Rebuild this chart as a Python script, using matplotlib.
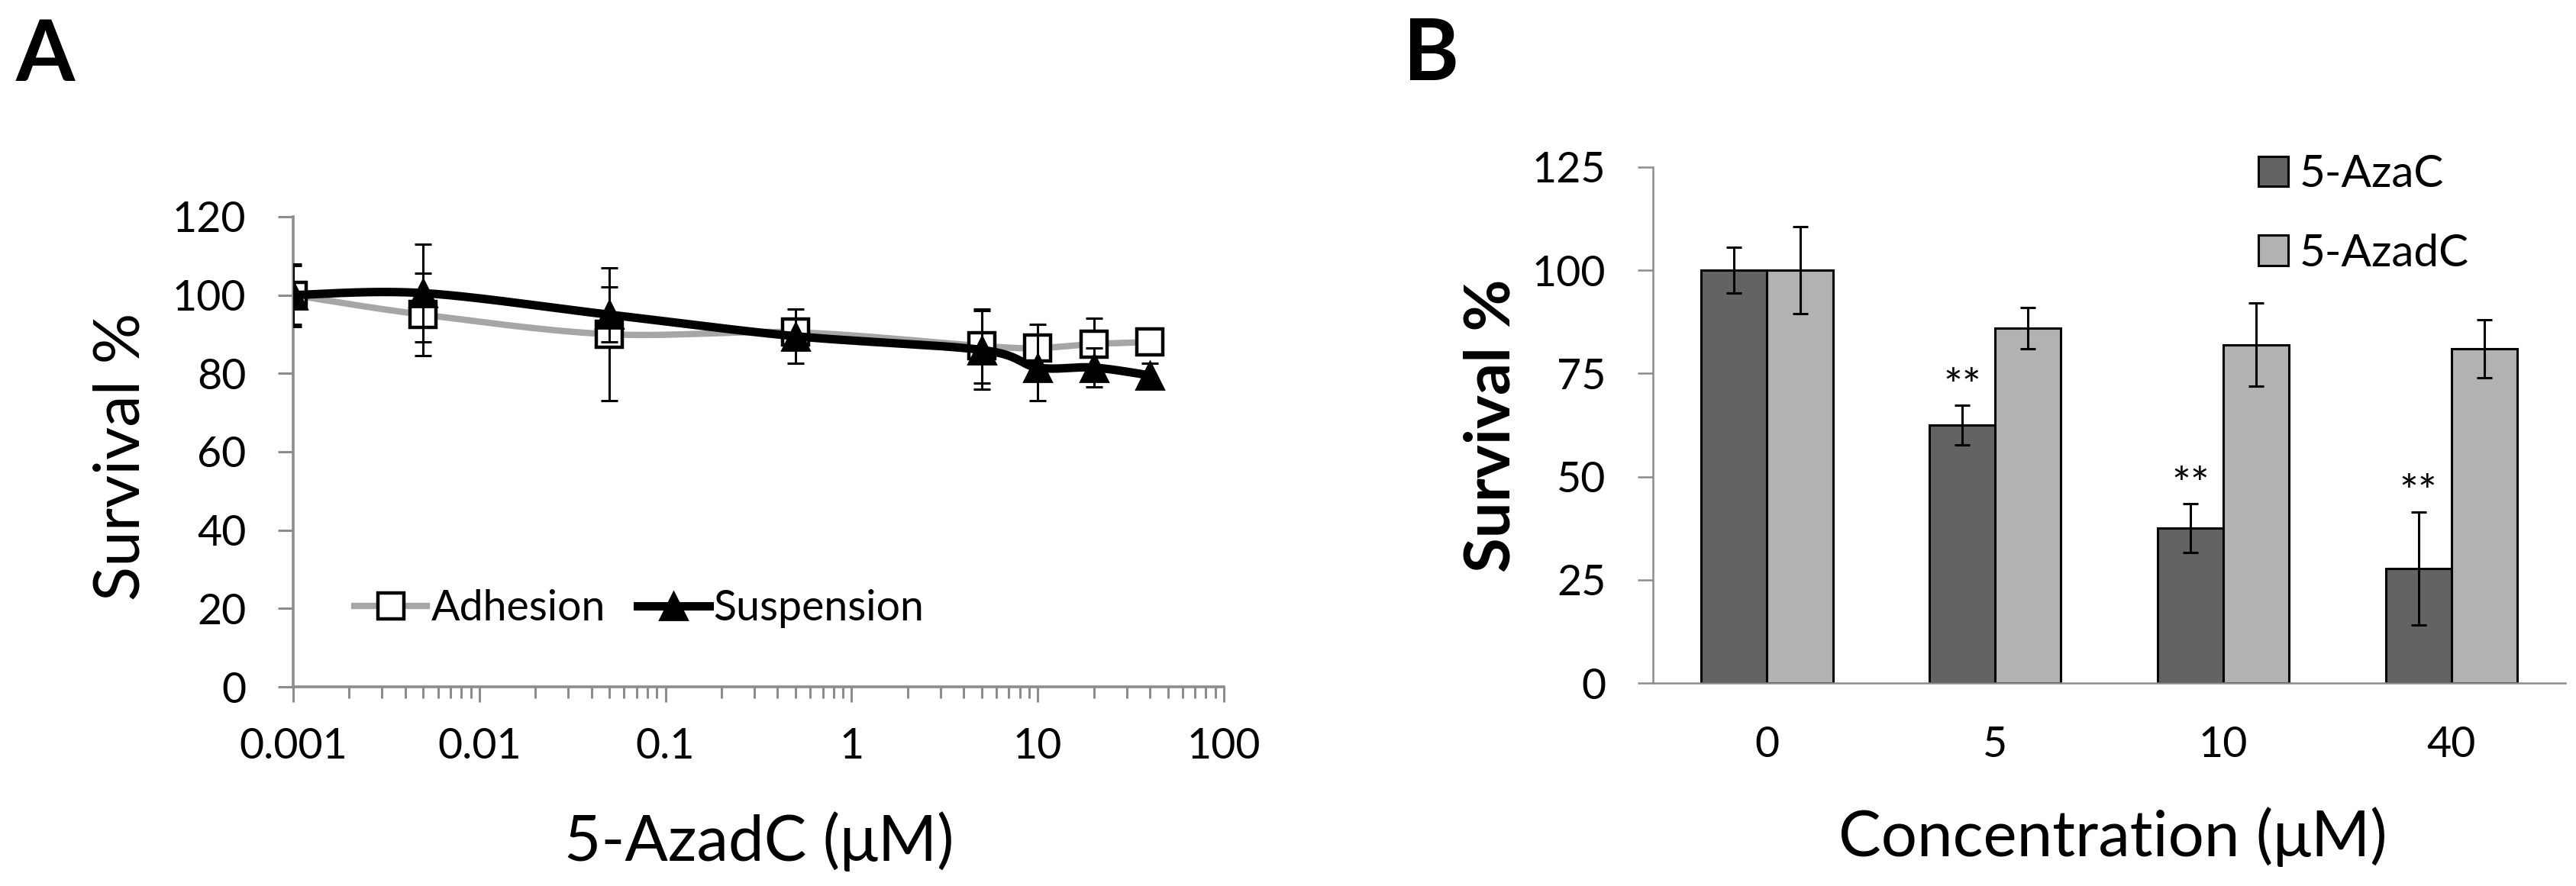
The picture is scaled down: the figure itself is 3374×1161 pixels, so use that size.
import numpy as np
import matplotlib
matplotlib.use('Agg')
import matplotlib.pyplot as plt
from matplotlib.lines import Line2D
from matplotlib.patches import Patch
from matplotlib.ticker import FixedLocator, FixedFormatter, NullFormatter

plt.rcParams['font.family'] = ['Lato', 'DejaVu Sans']

# panel A: 5-AzadC dose response
conc_a = [0.001, 0.005, 0.05, 0.5, 5, 10, 20, 40]
adhesion = [100, 95, 90, 90.5, 87, 86.5, 87.5, 88]
adhesion_err = [8, 10.5, 17, 3, 9.5, 6, 6.5, 1]
suspension = [100, 100.5, 95, 89.5, 86, 81.5, 81.5, 79.5]
suspension_err = [7.5, 12.5, 7, 7, 10, 8.5, 5, 3]
xticks_a = [0.001, 0.01, 0.1, 1, 10, 100]
xticklabels_a = ['0.001', '0.01', '0.1', '1', '10', '100']
yticks_a = [0, 20, 40, 60, 80, 100, 120]

# panel B: survival by concentration
conc_b = ['0', '5', '10', '40']
azac = [100, 62.5, 37.5, 27.8]
azac_err = [5.5, 4.8, 5.9, 13.7]
azadc = [100, 86, 82, 81]
azadc_err = [10.5, 5, 10, 7]
signif = ['', '**', '**', '**']
yticks_b = [0, 25, 50, 75, 100, 125]

GREY_LINE = '#a6a6a6'
AXIS_GREY = '#8c8c8c'
DARK_BAR = '#636363'
LIGHT_BAR = '#b2b2b2'


def smooth_line(x, y, n=40):
	"""
      Excel style smoothed line (bezier through the points) on a log x axis

      Args:
        x: x values (positive, log axis)
        y: y values

      Returns:
        x and y of the drawn curve
      """
	lx = np.log10(np.asarray(x, float))
	ly = np.asarray(y, float)
	last = len(lx) - 1
	t = np.linspace(0, 1, n)
	cx, cy = [], []
	for i in range(last):
		i0 = max(i - 1, 0)
		i3 = min(i + 2, last)
		c1x = lx[i] + (lx[i + 1] - lx[i0]) / 6
		c1y = ly[i] + (ly[i + 1] - ly[i0]) / 6
		c2x = lx[i + 1] - (lx[i3] - lx[i]) / 6
		c2y = ly[i + 1] - (ly[i3] - ly[i]) / 6
		bx = (1-t)**3*lx[i] + 3*(1-t)**2*t*c1x + 3*(1-t)*t**2*c2x + t**3*lx[i+1]
		by = (1-t)**3*ly[i] + 3*(1-t)**2*t*c1y + 3*(1-t)*t**2*c2y + t**3*ly[i+1]
		cx.append(bx)
		cy.append(by)
	return 10**np.concatenate(cx), np.concatenate(cy)


fig = plt.figure(figsize=(16.87, 5.805), dpi=200)

# ---------------- panel A ----------------
axA = fig.add_axes([0.1138, 0.2248, 0.3613, 0.5306])
axA.set_xscale('log')
axA.set_xlim(0.001, 100)
axA.set_ylim(0, 120)

sx, sy = smooth_line(conc_a, adhesion)
axA.plot(sx, sy, color=GREY_LINE, lw=3.0, zorder=2, solid_capstyle='round')
axA.errorbar(conc_a, adhesion, yerr=adhesion_err, fmt='none', ecolor='black',
			 elinewidth=1.1, capsize=3.8, capthick=1.1, zorder=3)
axA.plot(conc_a, adhesion, ls='none', marker='s', ms=12.5, mfc='white',
		 mec='black', mew=1.6, zorder=4)

sx, sy = smooth_line(conc_a, suspension)
axA.plot(sx, sy, color='black', lw=4.0, zorder=5, solid_capstyle='round')
axA.errorbar(conc_a, suspension, yerr=suspension_err, fmt='none', ecolor='black',
			 elinewidth=1.1, capsize=3.8, capthick=1.1, zorder=6)
axA.plot(conc_a, suspension, ls='none', marker='^', ms=13, mfc='black',
		 mec='black', mew=1, zorder=7)

for side in ['top', 'right']:
	axA.spines[side].set_visible(False)
for side in ['left', 'bottom']:
	axA.spines[side].set_color(AXIS_GREY)
	axA.spines[side].set_linewidth(1.3)

axA.xaxis.set_major_locator(FixedLocator(xticks_a))
axA.xaxis.set_major_formatter(FixedFormatter(xticklabels_a))
minors = [m * 10.0**d for d in range(-3, 2) for m in range(2, 10)]
axA.xaxis.set_minor_locator(FixedLocator(minors))
axA.xaxis.set_minor_formatter(NullFormatter())
axA.set_yticks(yticks_a)
axA.tick_params(axis='both', which='major', direction='out', length=7.2, width=1.1,
				color=AXIS_GREY, labelcolor='black', labelsize=20)
axA.tick_params(axis='x', which='minor', direction='out', length=5.4, width=1.1,
				color=AXIS_GREY)
axA.tick_params(axis='y', pad=15)
axA.tick_params(axis='x', pad=12)

axA.set_xlabel('5-AzadC (μM)', fontsize=30, va='baseline')
axA.xaxis.set_label_coords(0.5004, -0.370)
axA.set_ylabel('Survival %', fontsize=30, va='baseline')
axA.yaxis.set_label_coords(-0.165, 0.489)

legA = [Line2D([], [], color=GREY_LINE, lw=3.0, marker='s', ms=12.5, mfc='white',
			   mec='black', mew=1.6),
		Line2D([], [], color='black', lw=4.0, marker='^', ms=13, mfc='black',
			   mec='black')]
axA.legend(legA, ['Adhesion', 'Suspension'], loc='center', ncol=2,
		   bbox_to_anchor=(0.372, 0.166), frameon=False, fontsize=20,
		   handlelength=1.7, handletextpad=0.1, columnspacing=0.75,
		   borderpad=0, borderaxespad=0)

# ---------------- panel B ----------------
axB = fig.add_axes([0.6417, 0.2291, 0.3542, 0.5823])
xb = np.arange(len(conc_b))
w = 0.288
axB.bar(xb - w / 2, azac, w, color=DARK_BAR, edgecolor='black', linewidth=1.1,
		yerr=azac_err, error_kw=dict(ecolor='black', elinewidth=1.1, capsize=3.6,
									 capthick=1.1), label='5-AzaC', zorder=2)
axB.bar(xb + w / 2, azadc, w, color=LIGHT_BAR, edgecolor='black', linewidth=1.1,
		yerr=azadc_err, error_kw=dict(ecolor='black', elinewidth=1.1, capsize=3.6,
									  capthick=1.1), label='5-AzadC', zorder=2)
for i in range(len(conc_b)):
	if signif[i]:
		axB.text(xb[i] - w / 2, azac[i] + azac_err[i] + 4.2, signif[i],
				 ha='center', va='center', fontsize=21)

axB.set_xlim(-0.5, 3.5)
axB.set_ylim(0, 125)
axB.set_yticks(yticks_b)
axB.set_xticks(xb)
axB.set_xticklabels(conc_b)
for side in ['top', 'right']:
	axB.spines[side].set_visible(False)
for side in ['left', 'bottom']:
	axB.spines[side].set_color(AXIS_GREY)
	axB.spines[side].set_linewidth(0.9)
axB.tick_params(axis='y', direction='out', length=7.2, width=0.9, color=AXIS_GREY,
				labelsize=20, pad=15)
axB.tick_params(axis='x', length=0, labelsize=20, pad=20)

axB.set_xlabel('Concentration (μM)', fontsize=30, va='baseline')
axB.xaxis.set_label_coords(0.504, -0.336)
axB.set_ylabel('Survival %', fontsize=30, fontweight='bold', va='baseline')
axB.yaxis.set_label_coords(-0.157, 0.4985)

legB = [Patch(facecolor=DARK_BAR, edgecolor='black', linewidth=1.1),
		Patch(facecolor=LIGHT_BAR, edgecolor='black', linewidth=1.1)]
fig.legend(legB, ['5-AzaC', '5-AzadC'], loc='upper left',
		   bbox_to_anchor=(0.8767, 0.826), frameon=False, fontsize=21,
		   handlelength=0.67, handleheight=0.67, handletextpad=0.25,
		   labelspacing=0.87, borderpad=0, borderaxespad=0)

# panel letters
fig.text(0.0062, 0.9087, 'A', fontsize=40, fontweight='bold', va='baseline')
fig.text(0.5448, 0.9096, 'B', fontsize=40, fontweight='bold', va='baseline')

fig.savefig('out.png', dpi=200)
